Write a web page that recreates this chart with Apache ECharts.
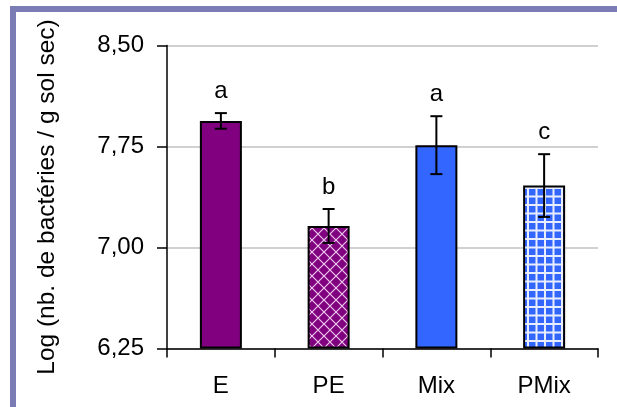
<!DOCTYPE html>
<html>
<head>
<meta charset="utf-8">
<script src="https://cdn.jsdelivr.net/npm/echarts@6/dist/echarts.min.js"></script>
<style>
html,body{margin:0;padding:0;background:#fff;}
#chart{width:617px;height:407px;}
</style>
</head>
<body>
<div id="chart"></div>
<script>
// ---- data ----
const categories = ['E', 'PE', 'Mix', 'PMix'];
const means = [7.94, 7.16, 7.76, 7.46];
const errors = [0.058, 0.126, 0.215, 0.233];
const letters = ['a', 'b', 'a', 'c'];
const yTicks = [6.25, 7.00, 7.75, 8.50];
const axisTitle = 'Log (nb. de bactéries / g sol sec)';

const base = yTicks[0];
const FONT = 'Liberation Sans, Arial, sans-serif';

function makePatternPE() {
  const c = document.createElement('canvas');
  c.width = 12; c.height = 12;
  const g = c.getContext('2d');
  g.fillStyle = '#800080';
  g.fillRect(0, 0, 12, 12);
  g.strokeStyle = 'rgba(255,235,255,0.85)';
  g.lineWidth = 1.2;
  g.beginPath();
  g.moveTo(-1, -1); g.lineTo(13, 13);
  g.moveTo(13, -1); g.lineTo(-1, 13);
  g.stroke();
  return c;
}
function makePatternPMix() {
  const c = document.createElement('canvas');
  c.width = 17; c.height = 17;
  const g = c.getContext('2d');
  g.fillStyle = '#e8eeff';
  g.fillRect(0, 0, 17, 17);
  g.fillStyle = '#3366ff';
  g.fillRect(2, 2, 6.5, 6.5);
  g.fillRect(10.5, 2, 6.5, 6.5);
  g.fillRect(2, 10.5, 6.5, 6.5);
  g.fillRect(10.5, 10.5, 6.5, 6.5);
  return c;
}

const fills = ['#800080', { image: makePatternPE(), repeat: 'repeat' }, '#3366ff', { image: makePatternPMix(), repeat: 'repeat' }];

const chart = echarts.init(document.getElementById('chart'), null, { renderer: 'canvas' });

const option = {
  animation: false,
  backgroundColor: '#ffffff',
  grid: { left: 167, right: 19, top: 45.5, bottom: 58.5, containLabel: false },
  xAxis: {
    type: 'category',
    data: categories,
    boundaryGap: true,
    axisLine: { lineStyle: { color: '#000', width: 1.5 } },
    axisTick: { show: true, length: 9, lineStyle: { color: '#000', width: 1.5 } },
    axisLabel: { color: '#000', fontSize: 24, fontFamily: FONT, margin: 26 },
    splitLine: { show: false }
  },
  yAxis: {
    type: 'value',
    min: 0,
    max: yTicks[yTicks.length - 1] - base,
    interval: yTicks[1] - yTicks[0],
    axisLine: { show: true, lineStyle: { color: '#000', width: 1.5 } },
    axisTick: { show: true, length: 10, lineStyle: { color: '#000', width: 1.5 } },
    axisLabel: {
      color: '#000', fontSize: 24, fontFamily: FONT, margin: 23,
      formatter: v => (v + base).toFixed(2).replace('.', ',')
    },
    splitLine: { show: true, lineStyle: { color: '#c0c0c0', width: 1.5 } }
  },
  series: [
    {
      type: 'bar',
      barWidth: 42,
      data: means.map((m, i) => ({
        value: m - base,
        itemStyle: { color: fills[i], borderColor: '#000', borderWidth: 2 }
      })),
      z: 2
    },
    {
      type: 'custom',
      z: 5,
      data: means.map((m, i) => [i, m - base, errors[i]]),
      renderItem: function (params, api) {
        const i = api.value(0), m = api.value(1), e = api.value(2);
        const top = api.coord([i, m + e]);
        const bot = api.coord([i, m - e]);
        const hw = 6;
        return {
          type: 'group',
          children: [
            { type: 'line', shape: { x1: top[0], y1: top[1], x2: bot[0], y2: bot[1] }, style: { stroke: '#000', lineWidth: 2 } },
            { type: 'line', shape: { x1: top[0] - hw, y1: top[1], x2: top[0] + hw, y2: top[1] }, style: { stroke: '#000', lineWidth: 2 } },
            { type: 'line', shape: { x1: bot[0] - hw, y1: bot[1], x2: bot[0] + hw, y2: bot[1] }, style: { stroke: '#000', lineWidth: 2 } },
            { type: 'text', x: top[0], y: top[1] - 10, style: { text: letters[i], fill: '#000', font: '24px ' + FONT, align: 'center', verticalAlign: 'bottom' } }
          ]
        };
      }
    }
  ],
  graphic: [
    { type: 'rect', shape: { x: 10, y: 6, width: 607, height: 6 }, style: { fill: '#7b7bb5' } },
    { type: 'rect', shape: { x: 10, y: 6, width: 6, height: 401 }, style: { fill: '#7b7bb5' } },
    { type: 'text', x: 47, y: 197, rotation: Math.PI / 2, style: { text: axisTitle, fill: '#000', font: '24.5px ' + FONT, align: 'center', verticalAlign: 'middle' } }
  ]
};
chart.setOption(option);
</script>
</body>
</html>
